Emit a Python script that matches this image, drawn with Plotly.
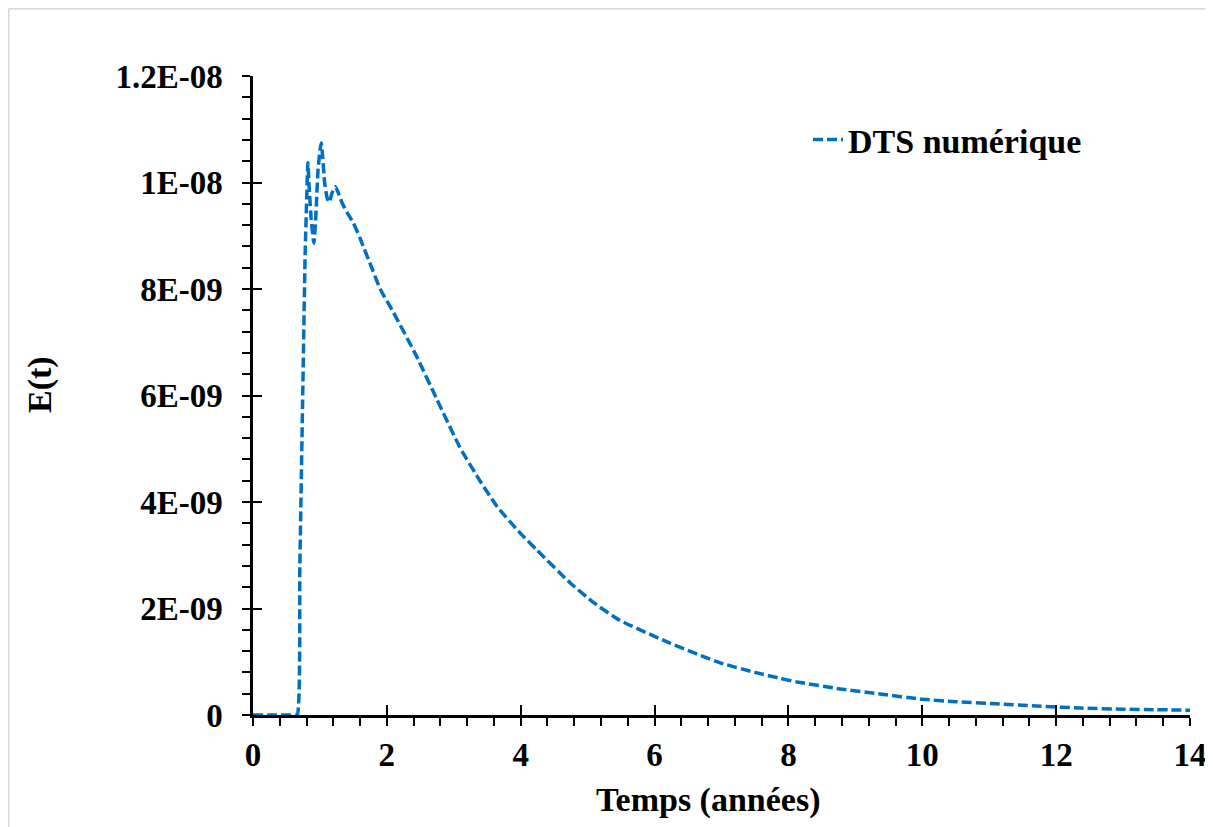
import plotly.graph_objects as go

# ---- data ----
temps_annees = [0, 0.3, 0.6, 0.66, 0.70, 0.74, 0.78, 0.80, 0.82, 0.84, 0.87, 0.91, 0.94,
                0.97, 1.00, 1.02, 1.04, 1.07, 1.11, 1.14, 1.18, 1.23, 1.27, 1.33, 1.40,
                1.50, 1.60, 1.78, 1.90, 2.09, 2.45, 2.75, 3.09, 3.40, 3.65, 3.99, 4.24,
                4.74, 5.10, 5.48, 6.23, 6.98, 7.50, 7.87, 8.13, 8.77, 9.40, 9.97, 10.50,
                11.10, 11.70, 12.36, 13.00, 13.50, 14.00]
e_t_nano = [0, 0, 0, 0, 2.8, 5.8, 8.7, 9.6, 10.37, 9.9, 9.3, 8.86, 9.4,
            10.2, 10.6, 10.74, 10.5, 10.0, 9.7, 9.63, 9.8, 9.92, 9.82, 9.62, 9.45,
            9.24, 8.95, 8.38, 8.0, 7.58, 6.72, 5.92, 5.03, 4.38, 3.91, 3.42, 3.10,
            2.48, 2.10, 1.78, 1.35, 0.98, 0.80, 0.69, 0.62, 0.49, 0.39, 0.30, 0.25,
            0.21, 0.17, 0.13, 0.11, 0.10, 0.09]
e_t = [v * 1e-9 for v in e_t_nano]

series_name = "DTS numérique"
x_title = "Temps (années)"
y_title = "E(t)"
y_tickvals = [0, 2e-9, 4e-9, 6e-9, 8e-9, 1e-8, 1.2e-8]
y_ticktext = ["0", "2E-09", "4E-09", "6E-09", "8E-09", "1E-08", "1.2E-08"]
x_tickvals = [0, 2, 4, 6, 8, 10, 12, 14]

# ---- geometry (figure coords; page has an 8px body margin) ----
OFF = 8
W, H = 1213 - OFF, 827 - OFF
L, T = 253 - OFF, 76 - OFF
PR, PB = 1190 - OFF, 715 - OFF
R, B = W - PR, H - PB
pw, ph = PR - L, PB - T


def px(xr):  # reference pixel x -> paper x
    return (xr - OFF - L) / pw


def py(yr):  # reference pixel y -> paper y
    return (PB - (yr - OFF)) / ph


FONT = "Liberation Serif"
tick_font = dict(family=FONT, size=33, color="black", weight="bold")
title_font = dict(family=FONT, size=34, color="black", weight="bold")

fig = go.Figure()
fig.add_trace(go.Scatter(
    x=temps_annees, y=e_t, mode="lines", name=series_name,
    line=dict(color="#0070C0", width=3.5, dash="10px,4px", shape="spline", smoothing=0.5),
    xaxis="x", yaxis="y", showlegend=True,
))

axis_common = dict(showgrid=False, zeroline=False, linecolor="black", linewidth=2.5,
                   ticks="outside", ticklen=8, tickwidth=2, tickcolor="black")

fig.update_layout(
    width=W, height=H,
    margin=dict(l=L, r=R, t=T, b=B, autoexpand=False),
    paper_bgcolor="white", plot_bgcolor="white",
    xaxis=dict(range=[0, 14], tickvals=x_tickvals, showline=True,
               tickfont=tick_font, ticklabelstandoff=1,
               minor=dict(ticks="outside", ticklen=8, tickwidth=2, tickcolor="black", dtick=0.4),
               **axis_common),
    yaxis=dict(range=[0, 1.2e-8], tickvals=y_tickvals, ticktext=y_ticktext, showline=True,
               tickfont=tick_font, ticklabelstandoff=13,
               minor=dict(ticks="outside", ticklen=8, tickwidth=2, tickcolor="black", dtick=0.4e-9),
               **axis_common),
    # overlay axes to make the major ticks cross the axis line
    xaxis2=dict(overlaying="x", matches="x", anchor="y", side="bottom", tickvals=x_tickvals,
                showticklabels=False, ticks="inside", ticklen=10, tickwidth=2,
                tickcolor="black", showgrid=False, zeroline=False, showline=False),
    yaxis2=dict(overlaying="y", matches="y", anchor="x", side="left", tickvals=y_tickvals,
                showticklabels=False, ticks="inside", ticklen=9, tickwidth=2,
                tickcolor="black", showgrid=False, zeroline=False, showline=False),
    legend=dict(x=px(800 + OFF), y=py(140), xanchor="left", yanchor="middle",
                font=title_font, bgcolor="rgba(0,0,0,0)", borderwidth=0),
    showlegend=True,
)

# dummy invisible trace for overlay axes
fig.add_trace(go.Scatter(x=[0], y=[0], xaxis="x2", yaxis="y2", mode="markers",
                         marker=dict(opacity=0), showlegend=False, hoverinfo="skip"))

fig.add_annotation(text=x_title, xref="paper", yref="paper",
                   x=px(708), y=py(800),
                   xanchor="center", yanchor="middle", showarrow=False, font=title_font)
fig.add_annotation(text=y_title, xref="paper", yref="paper",
                   x=px(40), y=py(385), textangle=-90,
                   xanchor="center", yanchor="middle", showarrow=False, font=title_font)

# light grey frame of the chart area: only top and left edges are visible
frame_line = dict(color="#d9d9d9", width=1.5)
fig.add_shape(type="line", xref="paper", yref="paper",
              x0=px(OFF + 0.75), x1=px(1213), y0=py(OFF + 0.75), y1=py(OFF + 0.75),
              line=frame_line, layer="below")
fig.add_shape(type="line", xref="paper", yref="paper",
              x0=px(OFF + 0.75), x1=px(OFF + 0.75), y0=py(OFF + 0.75), y1=py(827),
              line=frame_line, layer="below")

fig.write_html("out.html")
